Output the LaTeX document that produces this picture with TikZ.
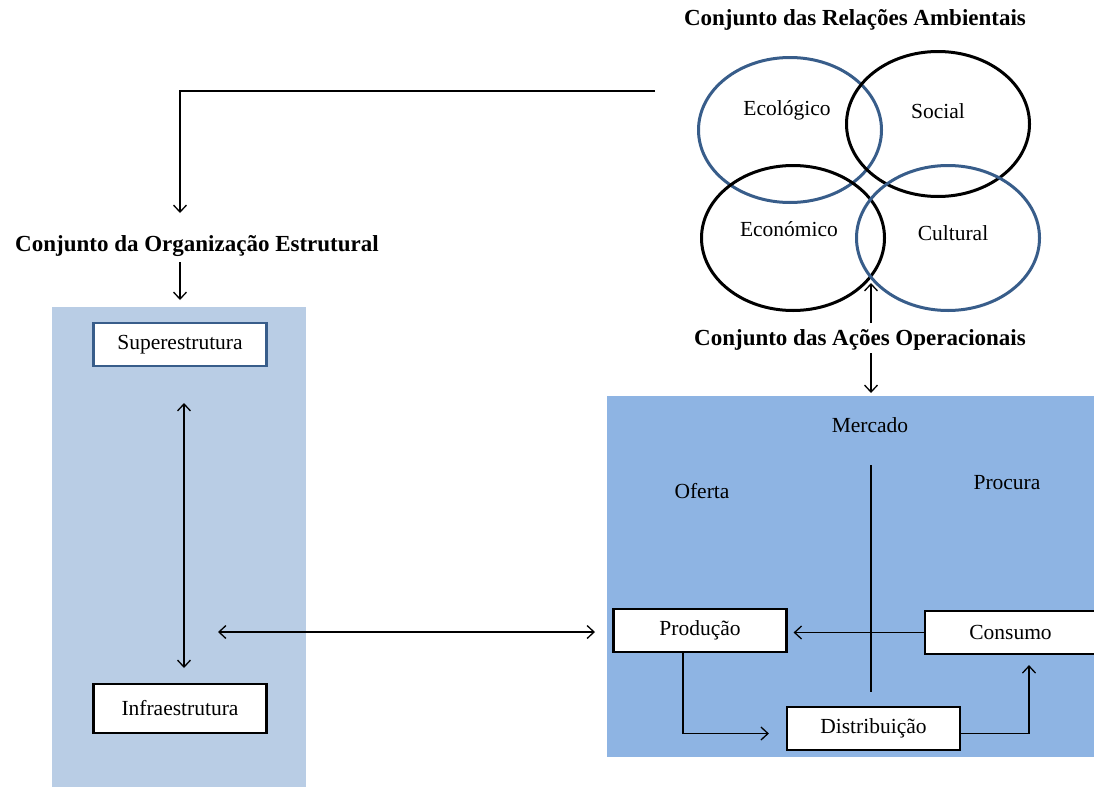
\documentclass[tikz,border=0pt]{standalone}
\usepackage{fontspec}
\setmainfont{Liberation Serif}
\usetikzlibrary{arrows.meta,shapes.geometric}
\definecolor{leftblue}{HTML}{B9CDE5}
\definecolor{rightblue}{HTML}{8EB4E3}
\definecolor{ellblue}{HTML}{385D8A}
\begin{document}
\begin{tikzpicture}[x=1pt,y=-1pt,
  lbl/.style={font=\fontsize{21.5}{25}\selectfont, inner sep=0pt},
  ttl/.style={font=\fontsize{23}{27}\selectfont\bfseries, inner sep=0pt},
  ell/.style={ellipse, draw, line width=3pt, minimum width=183pt, minimum height=145pt, inner sep=0pt},
  box/.style={draw, fill=white, line width=2.2pt, minimum width=173pt, minimum height=43pt, inner sep=0pt, font=\fontsize{21.5}{25}\selectfont},
  arr/.style={line width=1.3pt, -{Straight Barb[length=7pt,width=13pt]}},
  darr/.style={line width=1.3pt, {Straight Barb[length=7pt,width=13pt]}-{Straight Barb[length=7pt,width=13pt]}},
]
\useasboundingbox (0,0) rectangle (1094,787);
\fill[white] (0,0) rectangle (1094,787);
% panels
\fill[leftblue] (52,307) rectangle (306,787);
\fill[rightblue] (607,396) rectangle (1094,757);

% titles
\node[ttl] (t1) at (855,20) {Conjunto das Relações Ambientais};
\node[ttl] (t2) at (197,246) {Conjunto da Organização Estrutural};
\node[ttl] (t3) at (860,340) {Conjunto das Ações Operacionais};

% ellipses
\node[ell, draw=ellblue] (eco) at (790,130) {};
\node[ell] (soc) at (938,124) {};
\node[ell] (econ) at (793,238) {};
\node[ell, draw=ellblue] (cul) at (948,238) {};
\node[lbl] (teco) at (787,110) {Ecológico};
\node[lbl] (tsoc) at (938,111) {Social};
\node[lbl] (tecon) at (789,229) {Económico};
\node[lbl] (tcul) at (953,233) {Cultural};

% top-left connector
\coordinate (c1) at (655,91);
\coordinate (c2) at (180,213);
\draw[arr] (c1) -| (c2);
\coordinate (c3) at (180,262);
\coordinate (c4) at (180,300);
\draw[arr] (c3) -- (c4);

% left boxes
\node[box, draw=ellblue] (sup) at (180,344.5) {Superestrutura};
\node[box, minimum height=49pt] (inf) at (180,708.5) {Infraestrutura};
\coordinate (a1) at (184,403);
\coordinate (a2) at (184,668);
\draw[darr] (a1) -- (a2);
\coordinate (h1) at (218,632);
\coordinate (h2) at (595,632);
\draw[darr] (h1) -- (h2);

% arrows around Ações
\coordinate (u1) at (871,323);
\coordinate (u2) at (871,283);
\draw[arr] (u1) -- (u2);
\coordinate (d1) at (871,353);
\coordinate (d2) at (871,393);
\draw[arr] (d1) -- (d2);

% right panel content
\node[lbl] (merc) at (870,425) {Mercado};
\node[lbl] (of) at (702,491) {Oferta};
\node[lbl] (proc) at (1007,483) {Procura};
\coordinate (m1) at (871,465);
\coordinate (m2) at (871,692);
\draw[line width=1.3pt] (m1) -- (m2);

\node[box] (prod) at (700,630.5) {Produção};
\node[box, minimum width=176pt] (cons) at (1013,632.5) {\hspace*{-5pt}Consumo};
\node[box] (dist) at (873.5,728.5) {Distribuição};

\draw[arr, shorten >=6pt] (cons.west) -- (cons.west -| prod.east);
\draw[arr] ([xshift=-17pt]prod.south) |- ([xshift=-17pt,yshift=-5pt]dist.west);
\draw[arr, shorten >=10pt] ([yshift=-5pt]dist.east) -| ([xshift=16pt]cons.south);
\end{tikzpicture}
\end{document}
